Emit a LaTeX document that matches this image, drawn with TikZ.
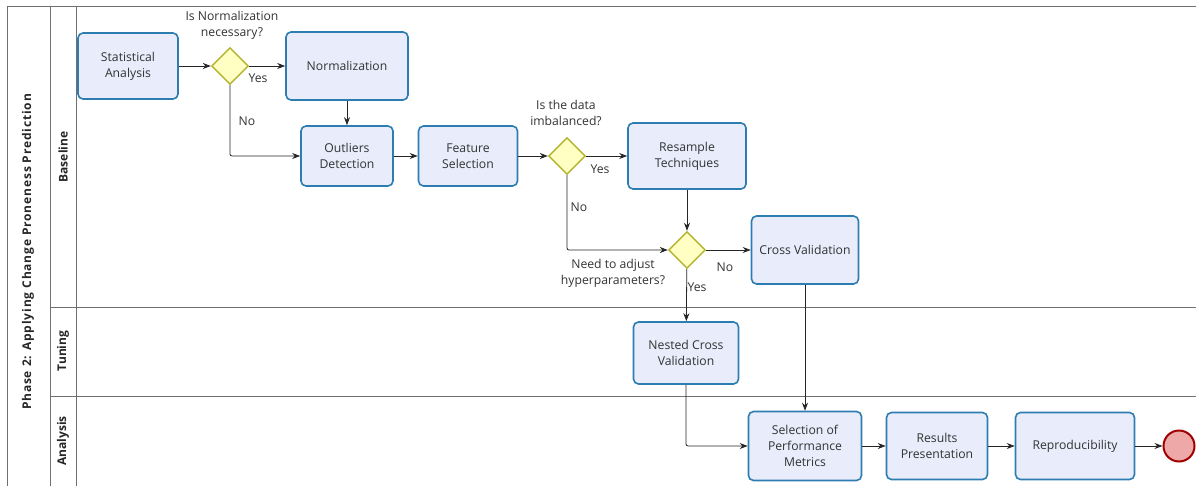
\documentclass[tikz,border=0pt]{standalone}
\usepackage{fontspec}
\setmainfont{Open Sans}
\newfontfamily\poolfont[LetterSpace=7]{Open Sans}
\usetikzlibrary{shapes.geometric,arrows.meta}
\definecolor{boxfill}{HTML}{E8ECFB}
\definecolor{boxdraw}{HTML}{2E7DB0}
\definecolor{gwfill}{HTML}{FFFFC4}
\definecolor{gwdraw}{HTML}{B3B32E}
\definecolor{txt}{HTML}{333333}
\definecolor{lanegray}{HTML}{707070}
\definecolor{endfill}{HTML}{EFA8A8}
\definecolor{enddraw}{HTML}{A00000}
\begin{document}
\begin{tikzpicture}[x=1pt,y=-1pt,
  font=\fontsize{12.2}{16}\selectfont,
  task/.style={draw=boxdraw, fill=boxfill, line width=1.6pt, rounded corners=5pt, align=center, text=txt, inner sep=0pt},
  gw/.style={diamond, draw=gwdraw, fill=gwfill, line width=1.4pt, minimum width=37pt, minimum height=37pt, inner sep=0pt, aspect=1},
  flow/.style={draw=black!85, line width=0.8pt, -{Stealth[length=8pt,width=6pt]}, rounded corners=2pt},
  lbl/.style={text=txt, align=center, inner sep=0pt},
  lanetitle/.style={rotate=90, font=\fontsize{12}{14}\selectfont\bfseries, text=black!85, inner sep=0pt},
  pooltitle/.style={rotate=90, font=\fontsize{12}{14}\selectfont\poolfont\bfseries, text=black!85, inner sep=0pt},
  laneline/.style={draw=lanegray, line width=1pt}]
\useasboundingbox (0,0) rectangle (1196,486);
% pool and lanes
\draw[laneline] (1196,7) -- (7,7) -- (7,486);
\draw[laneline] (50,7) -- (50,486);
\draw[laneline] (76,7) -- (76,486);
\draw[laneline] (50,307) -- (1196,307);
\draw[laneline] (50,396) -- (1196,396);
\node[pooltitle] (pool) at (28,252) {Phase 2: Applying Change Proneness Prediction};
\node[lanetitle] (l1) at (63,157) {Baseline};
\node[lanetitle] (l2) at (63,351) {Tuning};
\node[lanetitle] (l3) at (63,441) {Analysis};
% tasks
\node[task, minimum width=100pt, minimum height=66pt] (sa) at (128,66) {Statistical\\Analysis};
\node[gw] (g1) at (230,66) {};
\node[lbl] (g1t) at (232,25) {Is Normalization\\necessary?};
\node[task, minimum width=122pt, minimum height=68pt] (nm) at (347,66) {Normalization};
\node[task, minimum width=92pt, minimum height=60pt] (od) at (347,156) {Outliers\\Detection};
\node[task, minimum width=99pt, minimum height=60pt] (fs) at (468,156) {Feature\\Selection};
\node[gw] (g2) at (567,156) {};
\node[lbl] (g2t) at (566,113) {Is the data\\imbalanced?};
\node[task, minimum width=118pt, minimum height=66pt] (rt) at (687,156) {Resample\\Techniques};
\node[gw] (g3) at (687,250) {};
\node[lbl] (g3t) at (613,273) {Need to adjust\\hyperparameters?};
\node[task, minimum width=107pt, minimum height=68pt] (cv) at (805,250) {Cross Validation};
\node[task, minimum width=105pt, minimum height=62pt] (ncv) at (686,353) {Nested Cross\\Validation};
\node[task, minimum width=113pt, minimum height=69pt] (spm) at (805,446) {Selection of\\Performance\\Metrics};
\node[task, minimum width=101pt, minimum height=67pt] (rp) at (937,446) {Results\\Presentation};
\node[task, minimum width=119pt, minimum height=67pt] (rep) at (1075,446) {Reproducibility};
\node[circle, draw=enddraw, fill=endfill, line width=2pt, minimum size=31pt, inner sep=0pt] (end) at (1179,446) {};
% flows
\draw[flow] (sa) -- (g1);
\draw[flow] (g1) -- (nm);
\draw[flow] (g1.south) |- (od.west);
\draw[flow] (nm) -- (od);
\draw[flow] (od) -- (fs);
\draw[flow] (fs) -- (g2);
\draw[flow] (g2) -- (rt);
\draw[flow] (g2.south) |- (g3.west);
\draw[flow] (rt) -- (g3);
\draw[flow] (g3) -- (cv);
\draw[flow] (g3) -- (ncv);
\draw[flow] (cv) -- (spm);
\draw[flow] (ncv.south) |- (spm.west);
\draw[flow] (spm) -- (rp);
\draw[flow] (rp) -- (rep);
\draw[flow] (rep) -- (end);
% flow labels
\node[lbl] (y1) at (258,78) {Yes};
\node[lbl] (n1) at (247,121) {No};
\node[lbl] (y2) at (600,169) {Yes};
\node[lbl] (n2) at (579,207) {No};
\node[lbl] (n3) at (725,267) {No};
\node[lbl] (y3) at (697,287) {Yes};
\end{tikzpicture}
\end{document}
